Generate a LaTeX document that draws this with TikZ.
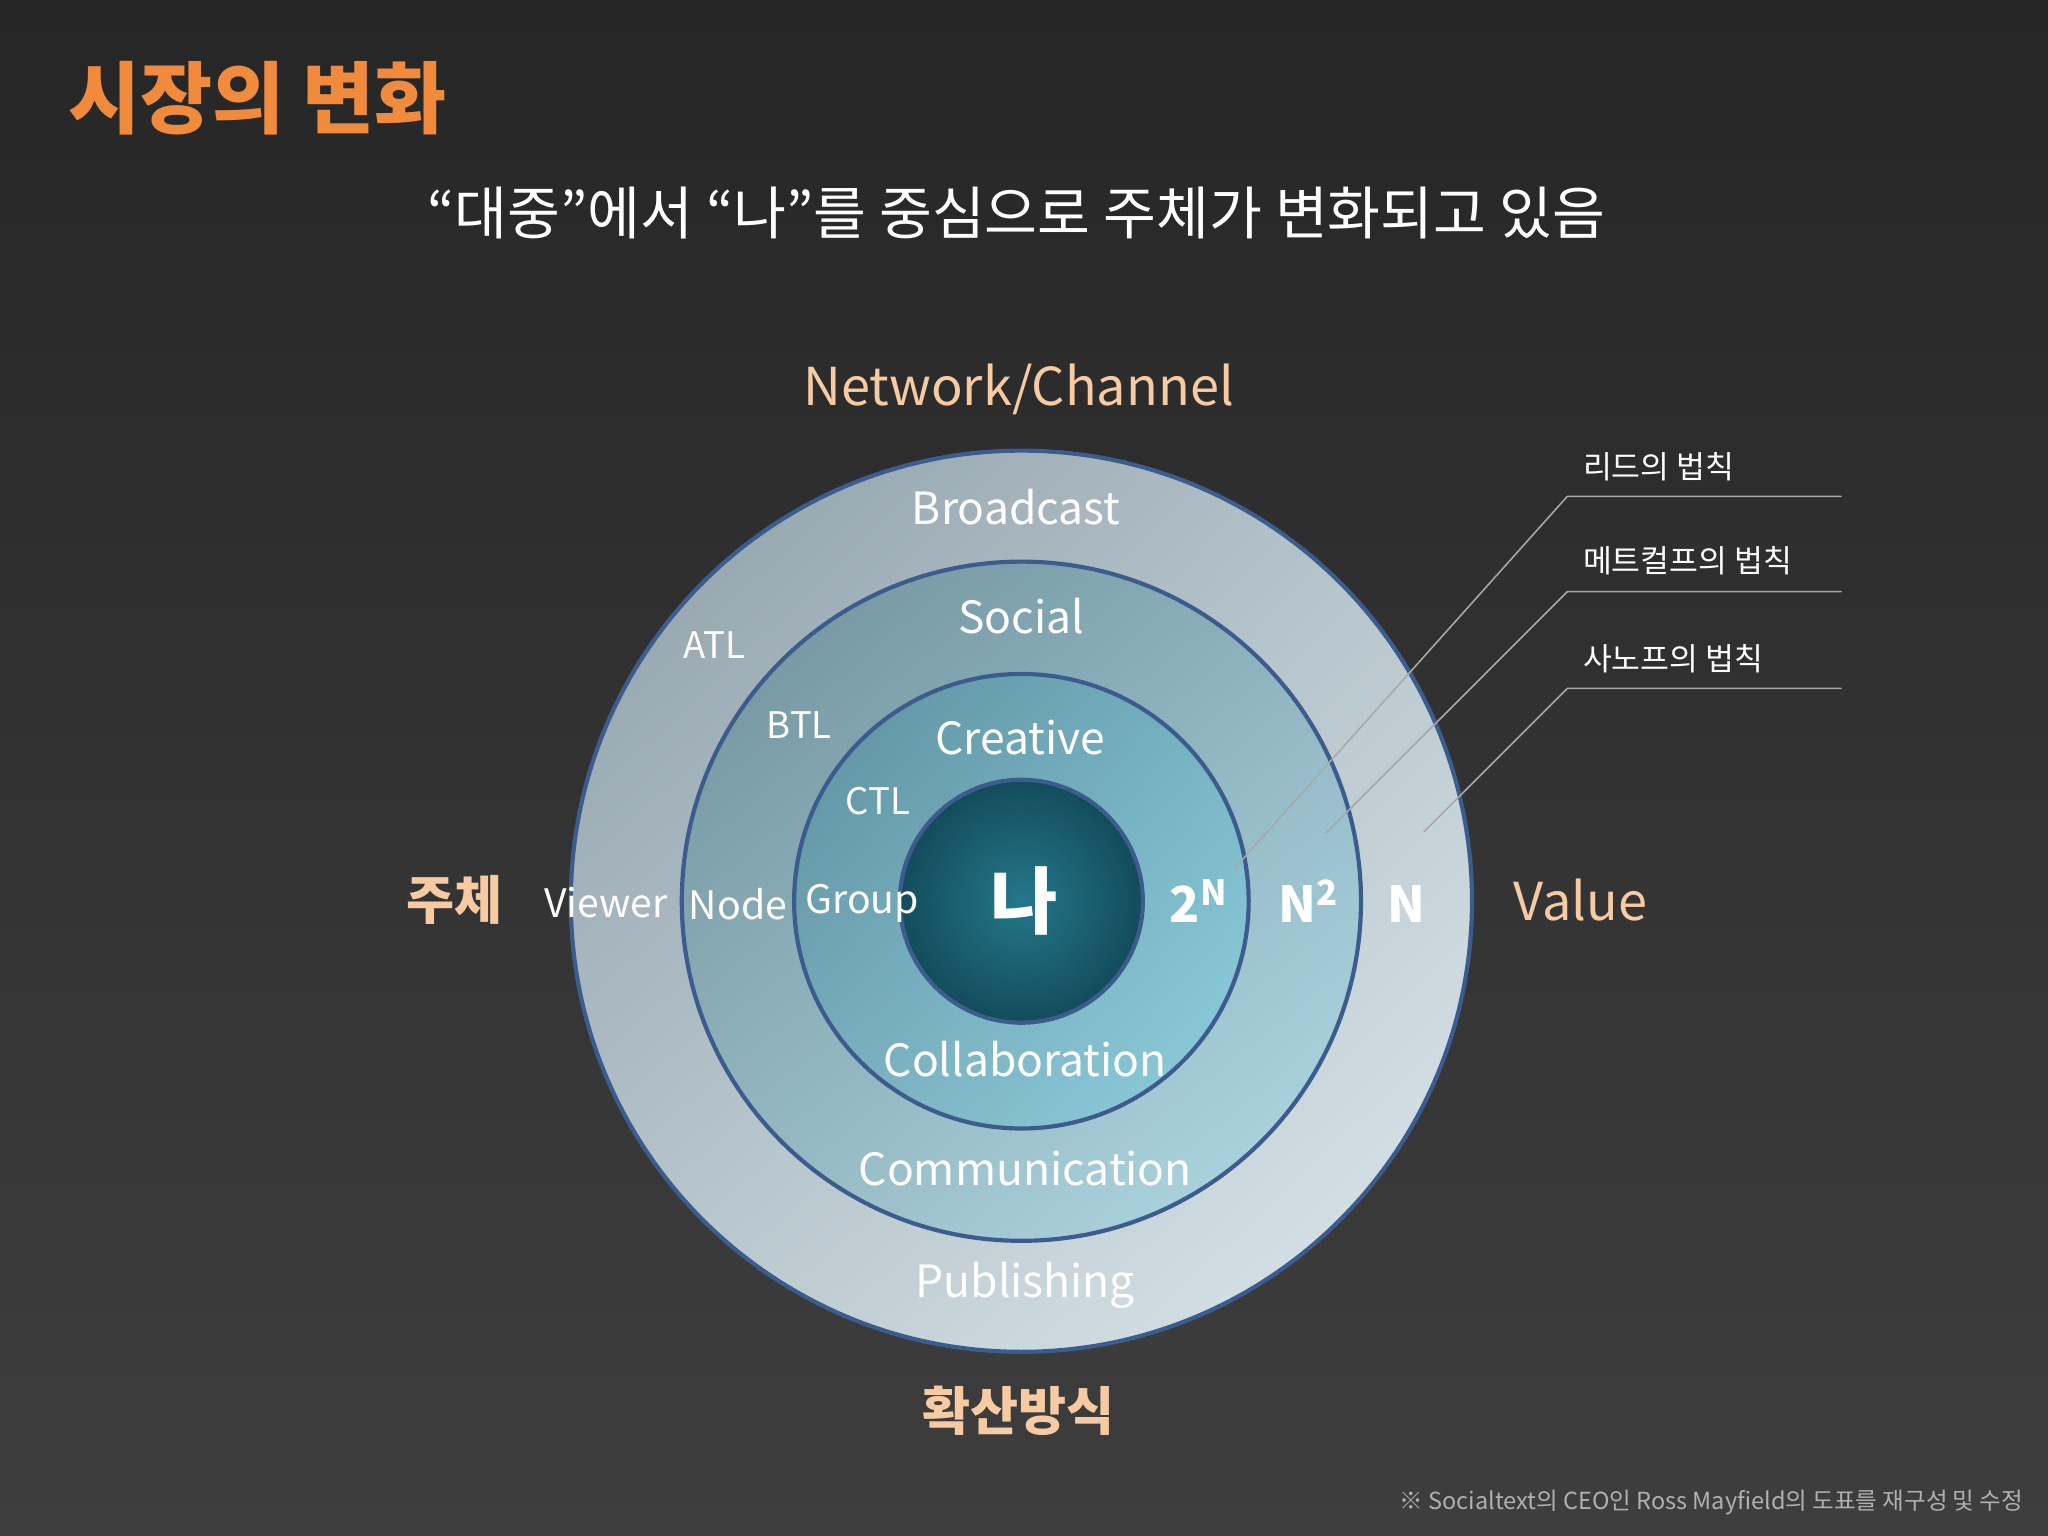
\documentclass[tikz,border=0pt]{standalone}
\usepackage{fontspec}
\setmainfont{Noto Sans CJK KR}
\usetikzlibrary{shadings}
\definecolor{bgtop}{HTML}{262626}
\definecolor{bgbot}{HTML}{3E3E3E}
\definecolor{ringline}{HTML}{3B5C8C}
\definecolor{peach}{HTML}{F6CBA4}
\definecolor{orng}{HTML}{F08A3C}
\definecolor{leader}{HTML}{A8A8A8}
\definecolor{footc}{HTML}{B0B0B0}
\definecolor{oa}{HTML}{8D9EA8}\definecolor{ob}{HTML}{B7C5CC}\definecolor{oc}{HTML}{B9C7CE}\definecolor{od}{HTML}{DCE8EC}
\definecolor{ma}{HTML}{6E8F99}\definecolor{mb}{HTML}{8DB3BF}\definecolor{mc}{HTML}{96B9C3}\definecolor{md}{HTML}{B2DCE7}
\definecolor{ia}{HTML}{5D8F9E}\definecolor{ib}{HTML}{76B3C3}\definecolor{ic}{HTML}{7AAFBE}\definecolor{id}{HTML}{8FD0DF}
\definecolor{ca}{HTML}{24788A}\definecolor{cb}{HTML}{134C5C}
\tikzset{
 ring/.style={draw=ringline, line width=1.6pt},
 lbl/.style={text=white, font=\fontsize{17}{20}\selectfont},
 sml/.style={text=white, font=\fontsize{14}{16}\selectfont},
 axis/.style={text=peach, font=\fontsize{20}{24}\selectfont},
 pw/.style={text=white, font=\fontsize{19}{22}\bfseries\itshape\selectfont},
 law/.style={text=white, font=\fontsize{12}{14}\selectfont, anchor=west},
 lead/.style={draw=leader, line width=0.6pt}
}
\begin{document}
\begin{tikzpicture}[x=0.5pt,y=-0.5pt]
\shade[top color=bgtop, bottom color=bgbot] (0,0) rectangle (1568,1176);
\useasboundingbox (0,0) rectangle (1568,1176);
\node[text=orng, font=\fontsize{30}{34}\bfseries\selectfont, anchor=west] (title) at (45,75) {시장의 변화};
\node[text=white, font=\fontsize{22}{26}\selectfont] (sub) at (778,163) {“대중”에서 “나”를 중심으로 주체가 변화되고 있음};
% rings
\shade[upper left=oa, upper right=ob, lower left=oc, lower right=od] (782,690) circle (345);
\draw[ring] (782,690) circle (345);
\shade[upper left=ma, upper right=mb, lower left=mc, lower right=md] (782,690) circle (260);
\draw[ring] (782,690) circle (260);
\shade[upper left=ia, upper right=ib, lower left=ic, lower right=id] (782,690) circle (174);
\draw[ring] (782,690) circle (174);
\shade[inner color=ca, outer color=cb] (782,690) circle (93);
\draw[ring] (782,690) circle (93);
% ring labels
\node[lbl] (bc) at (778,388) {Broadcast};
\node[lbl] (so) at (782,472) {Social};
\node[lbl] (cr) at (781,565) {Creative};
\node[lbl] (co) at (785,811) {Collaboration};
\node[lbl] (cm) at (785,895) {Communication};
\node[lbl] (pu) at (785,984) {Publishing};
\node[sml] (atl) at (547,494) {ATL};
\node[sml] (btl) at (612,555) {BTL};
\node[sml] (ctl) at (672,613) {CTL};
\node[sml,font=\fontsize{15}{18}\selectfont] (vw) at (464,691) {Viewer};
\node[sml,font=\fontsize{15}{18}\selectfont] (nd) at (565,692) {Node};
\node[sml,font=\fontsize{15}{18}\selectfont] (gr) at (660,692) {Group};
\node[text=white, font=\fontsize{28}{30}\bfseries\selectfont] (me) at (784,690) {나};
\node[pw] (p1) at (918,690) {2\textsuperscript{N}};
\node[pw] (p2) at (1002,690) {N\textsuperscript{2}};
\node[pw] (p3) at (1077,692) {N};
% axes
\node[axis] (net) at (780,298) {Network/Channel};
\node[axis] (val) at (1210,689) {Value};
\node[axis, font=\fontsize{20}{24}\bfseries\selectfont] (sub2) at (348,689) {주체};
\node[axis, font=\fontsize{20}{24}\bfseries\selectfont] (diff) at (780,1080) {확산방식};
% laws
\node[law] (l1) at (1205,357) {리드의 법칙};
\node[law] (l2) at (1205,429) {메트컬프의 법칙};
\node[law] (l3) at (1205,504) {사노프의 법칙};
\coordinate (a1) at (945,665); \coordinate (b1) at (1200,380); \coordinate (c1) at (1410,380);
\coordinate (a2) at (1015,638); \coordinate (b2) at (1200,453); \coordinate (c2) at (1410,453);
\coordinate (a3) at (1090,637); \coordinate (b3) at (1200,527); \coordinate (c3) at (1410,527);
\draw[lead] (a1) -- (b1) -- (c1);
\draw[lead] (a2) -- (b2) -- (c2);
\draw[lead] (a3) -- (b3) -- (c3);
\node[text=footc, font=\fontsize{9}{11}\selectfont, anchor=east] (foot) at (1556,1150) {※ Socialtext의 CEO인 Ross Mayfield의 도표를 재구성 및 수정};
\end{tikzpicture}
\end{document}
